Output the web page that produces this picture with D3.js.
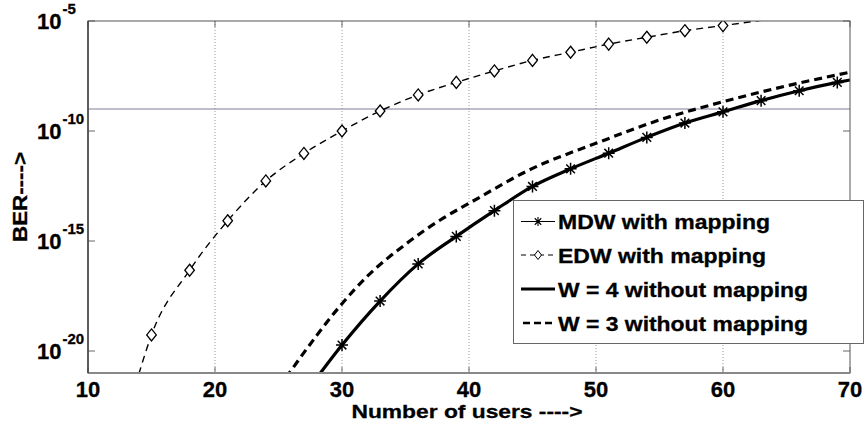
<!DOCTYPE html>
<html>
<head>
<meta charset="utf-8">
<script src="https://cdn.jsdelivr.net/npm/d3@7"></script>
<style>
  html, body { margin: 0; padding: 0; background: #fff; }
  svg { display: block; }
  text { font-family: "Liberation Sans", Arial, sans-serif; font-weight: bold; fill: #000; }
</style>
</head>
<body>
<svg id="chart" width="865" height="427"></svg>
<script>
// BER versus number of users, values kept as log10(BER)
const xTicks = [10, 20, 30, 40, 50, 60, 70];
const yTickExps = [-5, -10, -15, -20];

// MDW with mapping (asterisk markers)
const mdwUsers = [30, 33, 36, 39, 42, 45, 48, 51, 54, 57, 60, 63, 66, 69];
const mdwLog = [-19.73, -17.73, -16.04, -14.79, -13.62, -12.52, -11.72, -11.01, -10.29, -9.64, -9.13, -8.62, -8.17, -7.79];

// EDW with mapping (diamond markers); first and last entries only carry the line to the frame
const edwUsers = [14, 15, 18, 21, 24, 27, 30, 33, 36, 39, 42, 45, 48, 51, 54, 57, 60, 63];
const edwLog = [-21.05, -19.27, -16.33, -14.08, -12.27, -11.02, -10.0, -9.09, -8.36, -7.79, -7.27, -6.79, -6.42, -6.05, -5.74, -5.44, -5.21, -4.97];

// W = 4 without mapping
const w4Users = [28, 30, 33, 36, 39, 42, 45, 48, 51, 54, 57, 60, 63, 66, 69, 70];
const w4Log = [-21.23, -19.73, -17.73, -16.04, -14.79, -13.62, -12.52, -11.72, -11.01, -10.29, -9.64, -9.13, -8.62, -8.17, -7.79, -7.68];

// W = 3 without mapping
const w3Users = [25, 26, 28, 30, 32, 35, 38, 40, 45, 50, 55, 60, 65, 70];
const w3Log = [-21.7, -20.88, -19.3, -17.85, -16.6, -15.15, -13.95, -13.29, -11.7, -10.56, -9.5, -8.67, -7.95, -7.33];

// target BER level
const thresholdLog = -9;

const legendLabels = ["MDW with mapping", "EDW with mapping", "W = 4 without mapping", "W = 3 without mapping"];

const svg = d3.select("#chart");
const plot = { left: 88, right: 850, top: 21, bottom: 373 };

const x = d3.scaleLinear().domain([10, 70]).range([plot.left, plot.right]);
const y = d3.scaleLog().domain([1e-21, 1e-5]).range([plot.bottom, plot.top]);

const pts = (us, ls) => us.map((u, i) => [u, Math.pow(10, ls[i])]);

svg.append("defs").append("clipPath").attr("id", "plotClip")
  .append("rect")
  .attr("x", plot.left).attr("y", plot.top)
  .attr("width", plot.right - plot.left).attr("height", plot.bottom - plot.top);

// dotted grid
const grid = svg.append("g");
xTicks.filter(t => t > 10 && t < 70).forEach(t => {
  grid.append("line")
    .attr("x1", x(t)).attr("x2", x(t)).attr("y1", plot.top).attr("y2", plot.bottom)
    .attr("stroke", "#999").attr("stroke-width", 1).attr("stroke-dasharray", "1,2");
});
yTickExps.filter(e => e > -5).forEach(e => {
  grid.append("line")
    .attr("x1", plot.left).attr("x2", plot.right).attr("y1", y(Math.pow(10, e))).attr("y2", y(Math.pow(10, e)))
    .attr("stroke", "#999").attr("stroke-width", 1).attr("stroke-dasharray", "1,2");
});

// inward tick marks on all four sides
const ticks = svg.append("g").attr("stroke", "#666").attr("stroke-width", 1);
xTicks.forEach(t => {
  ticks.append("line").attr("x1", x(t)).attr("x2", x(t)).attr("y1", plot.bottom).attr("y2", plot.bottom - 6);
  ticks.append("line").attr("x1", x(t)).attr("x2", x(t)).attr("y1", plot.top).attr("y2", plot.top + 6);
});
yTickExps.forEach(e => {
  const yy = y(Math.pow(10, e));
  ticks.append("line").attr("x1", plot.left).attr("x2", plot.left + 7).attr("y1", yy).attr("y2", yy);
  ticks.append("line").attr("x1", plot.right).attr("x2", plot.right - 7).attr("y1", yy).attr("y2", yy);
});

// threshold line
svg.append("line")
  .attr("x1", plot.left).attr("x2", plot.right)
  .attr("y1", y(Math.pow(10, thresholdLog))).attr("y2", y(Math.pow(10, thresholdLog)))
  .attr("stroke", "#857a95").attr("stroke-width", 1);

// curves
const lineGen = d3.line().x(d => x(d[0])).y(d => y(d[1])).curve(d3.curveMonotoneX);
const curves = svg.append("g").attr("clip-path", "url(#plotClip)");

curves.append("path").datum(pts(edwUsers, edwLog))
  .attr("d", lineGen).attr("fill", "none").attr("stroke", "#000")
  .attr("stroke-width", 1.4).attr("stroke-dasharray", "7,5");

curves.append("path").datum(pts(w3Users, w3Log))
  .attr("d", lineGen).attr("fill", "none").attr("stroke", "#000")
  .attr("stroke-width", 3.2).attr("stroke-dasharray", "8,5");

curves.append("path").datum(pts(w4Users, w4Log))
  .attr("d", lineGen).attr("fill", "none").attr("stroke", "#000")
  .attr("stroke-width", 3.2);

curves.append("path").datum(pts(mdwUsers, mdwLog))
  .attr("d", lineGen).attr("fill", "none").attr("stroke", "#000")
  .attr("stroke-width", 1);

// markers
const starPath = r => {
  const d = r * 0.72;
  return `M${-r},0L${r},0M0,${-r}L0,${r}M${-d},${-d}L${d},${d}M${-d},${d}L${d},${-d}`;
};
const diamondPath = (w, h) => `M0,${-h}L${w},0L0,${h}L${-w},0Z`;

const markers = svg.append("g").attr("clip-path", "url(#plotClip)");
markers.selectAll("path.star").data(pts(mdwUsers, mdwLog)).join("path")
  .attr("class", "star")
  .attr("transform", d => `translate(${x(d[0])},${y(d[1])})`)
  .attr("d", starPath(6)).attr("stroke", "#000").attr("stroke-width", 1.5).attr("fill", "none");

markers.selectAll("path.dia").data(pts(edwUsers, edwLog).filter(d => d[0] >= 15 && d[0] <= 60)).join("path")
  .attr("class", "dia")
  .attr("transform", d => `translate(${x(d[0])},${y(d[1])})`)
  .attr("d", diamondPath(4.8, 6)).attr("stroke", "#000").attr("stroke-width", 1.3).attr("fill", "#fff");

// frame
svg.append("rect")
  .attr("x", plot.left).attr("y", plot.top)
  .attr("width", plot.right - plot.left).attr("height", plot.bottom - plot.top)
  .attr("fill", "none").attr("stroke", "#555").attr("stroke-width", 1);
svg.append("line")
  .attr("x1", plot.left).attr("x2", plot.right).attr("y1", plot.bottom).attr("y2", plot.bottom)
  .attr("stroke", "#888").attr("stroke-width", 2);
svg.append("line")
  .attr("x1", plot.left).attr("x2", plot.left).attr("y1", plot.top).attr("y2", plot.bottom)
  .attr("stroke", "#444").attr("stroke-width", 1.5);

// x tick labels
svg.append("g").selectAll("text").data(xTicks).join("text")
  .attr("x", d => x(d)).attr("y", 397)
  .attr("text-anchor", "middle").attr("font-size", 22)
  .attr("stroke", "#000").attr("stroke-width", 0.3)
  .text(d => d);

// y tick labels as 10 with superscript exponent
const yl = svg.append("g");
yTickExps.forEach(e => {
  const yy = y(Math.pow(10, e));
  const t = yl.append("text").attr("x", 37).attr("y", yy + 8).attr("font-size", 22)
    .attr("stroke", "#000").attr("stroke-width", 0.3);
  t.append("tspan").text("10");
  t.append("tspan").attr("font-size", 15).attr("dy", -15).attr("dx", 1).text(String(e));
});

// axis titles
svg.append("text")
  .attr("x", 467).attr("y", 418)
  .attr("text-anchor", "middle").attr("font-size", 19)
  .attr("stroke", "#000").attr("stroke-width", 0.3)
  .attr("textLength", 231).attr("lengthAdjust", "spacingAndGlyphs")
  .text("Number of users ---->");

svg.append("text")
  .attr("transform", "translate(27,197) rotate(-90)")
  .attr("text-anchor", "middle").attr("font-size", 21)
  .attr("stroke", "#000").attr("stroke-width", 0.3)
  .attr("textLength", 90).attr("lengthAdjust", "spacingAndGlyphs")
  .text("BER---->");

// legend
const lg = svg.append("g");
lg.append("rect")
  .attr("x", 513.5).attr("y", 200.5).attr("width", 350).attr("height", 143)
  .attr("fill", "#fff").attr("stroke", "#666").attr("stroke-width", 1);

const rowY = [221.5, 255, 289, 323];
const textWidths = [212, 208, 250, 250];
const sx0 = 521, sx1 = 555, sxm = 538;

// MDW sample
lg.append("line").attr("x1", sx0).attr("x2", sx1).attr("y1", rowY[0]).attr("y2", rowY[0])
  .attr("stroke", "#000").attr("stroke-width", 1);
lg.append("path").attr("transform", `translate(${sxm},${rowY[0]})`).attr("d", starPath(4.5))
  .attr("stroke", "#000").attr("stroke-width", 1.1).attr("fill", "none");
// EDW sample
lg.append("line").attr("x1", sx0).attr("x2", sx1).attr("y1", rowY[1]).attr("y2", rowY[1])
  .attr("stroke", "#000").attr("stroke-width", 1).attr("stroke-dasharray", "5,4");
lg.append("path").attr("transform", `translate(${sxm},${rowY[1]})`).attr("d", diamondPath(3.5, 4.5))
  .attr("stroke", "#000").attr("stroke-width", 1).attr("fill", "#fff");
// W = 4 sample
lg.append("line").attr("x1", sx0).attr("x2", sx1).attr("y1", rowY[2]).attr("y2", rowY[2])
  .attr("stroke", "#000").attr("stroke-width", 3);
// W = 3 sample
lg.append("line").attr("x1", sx0 + 2).attr("x2", sx1).attr("y1", rowY[3]).attr("y2", rowY[3])
  .attr("stroke", "#000").attr("stroke-width", 2.5).attr("stroke-dasharray", "7,4");

legendLabels.forEach((label, i) => {
  lg.append("text")
    .attr("x", 558).attr("y", rowY[i] + 7.5)
    .attr("font-size", 20)
    .attr("stroke", "#000").attr("stroke-width", 0.3)
    .attr("textLength", textWidths[i]).attr("lengthAdjust", "spacingAndGlyphs")
    .text(label);
});
</script>
</body>
</html>
